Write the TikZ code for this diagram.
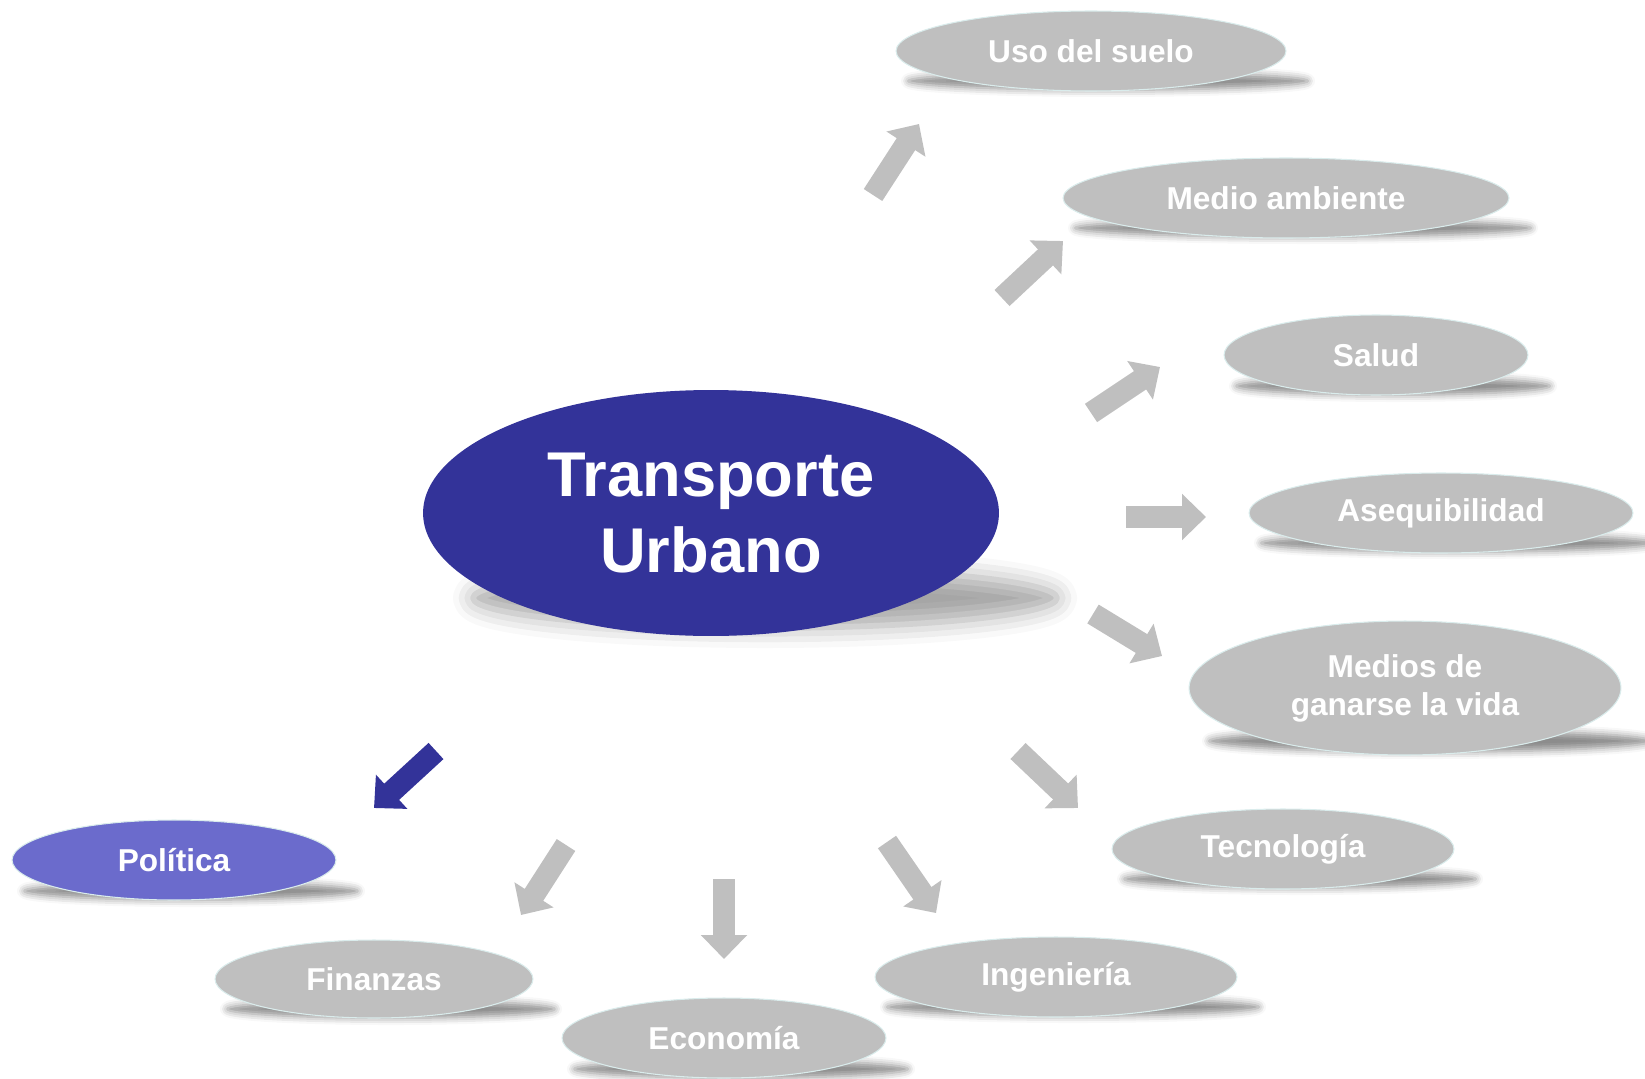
\documentclass[tikz,border=0pt]{standalone}
\usepackage{fontspec}
\setmainfont{Liberation Sans}
\usetikzlibrary{arrows.meta, shapes.geometric, shadows.blur}

\definecolor{azul}{RGB}{51,51,153}
\definecolor{lila}{RGB}{107,107,204}
\definecolor{gris}{RGB}{191,191,191}
\definecolor{borde}{RGB}{218,236,236}

\tikzset{
  elipse/.style={ellipse, fill=gris, draw=borde, line width=0.6pt, inner sep=0pt,
    minimum height=1.6cm, text=white, align=center,
    font=\fontsize{18}{21.6}\selectfont\bfseries},
  sombra/.style={blur shadow={shadow xshift=0pt, shadow yshift=0pt,
    shadow opacity=#1, shadow blur radius=0.14cm}},
  sombra/.default=45,
  flecha/.style={draw=gris, line width=0.44cm, -{Triangle[length=0.48cm, width=0.9cm]}}
}

\begin{document}
\begin{tikzpicture}[x=0.02cm, y=-0.02cm]
\useasboundingbox (0,0) rectangle (1645,1078);

% sombras
\path[blur shadow={shadow xshift=0pt, shadow yshift=0pt, shadow opacity=35,
  shadow blur radius=0.4cm}] (765,598) ellipse (292 and 30);
\path[sombra] (1108,81) ellipse (200 and 9);
\path[sombra] (1303,228) ellipse (228 and 9);
\path[sombra] (1393,386) ellipse (157 and 9);
\path[sombra] (1458,543) ellipse (197 and 9);
\path[sombra] (1430,741) ellipse (221 and 11);
\path[sombra] (1300,879) ellipse (176 and 9);
\path[sombra] (1073,1007) ellipse (186 and 9);
\path[sombra] (741,1069) ellipse (167 and 9);
\path[sombra] (391,1009) ellipse (164 and 9);
\path[sombra] (191,891) ellipse (167 and 9);

% centro
\node[ellipse, fill=azul, inner sep=0pt, minimum width=11.52cm, minimum height=4.92cm,
  text=white, align=center, font=\fontsize{36}{43}\selectfont\bfseries] (tu) at (711,513) {Transporte\\Urbano};

% temas
\node[elipse, minimum width=7.8cm] (uso) at (1091,51) {Uso del suelo};
\node[elipse, minimum width=8.92cm] (medio) at (1286,198) {Medio ambiente};
\node[elipse, minimum width=6.08cm] (salud) at (1376,355) {Salud};
\node[elipse, minimum width=7.68cm] (aseq) at (1441,513) {Asequibilidad};
\node[elipse, minimum width=8.64cm, minimum height=2.68cm] (vida) at (1405,688) {Medios de\\ganarse la vida};
\node[elipse, minimum width=6.84cm] (tec) at (1283,849) {Tecnología};
\node[elipse, minimum width=7.24cm] (ing) at (1056,977) {Ingeniería};
\node[elipse, minimum width=6.48cm] (eco) at (724,1038) {Economía};
\node[elipse, minimum width=6.36cm, minimum height=1.56cm] (fin) at (374,979) {Finanzas};
\node[elipse, minimum width=6.48cm, fill=lila] (pol) at (174,860) {Política};

% flechas
\coordinate (usoA) at (873,195);   \coordinate (usoB) at (919,124);
\coordinate (medioA) at (1002,298); \coordinate (medioB) at (1063,241);
\coordinate (saludA) at (1091,413); \coordinate (saludB) at (1160,367);
\coordinate (aseqA) at (1126,517); \coordinate (aseqB) at (1206,517);
\coordinate (vidaA) at (1093,614); \coordinate (vidaB) at (1162,656);
\coordinate (tecA) at (1018,751);  \coordinate (tecB) at (1078,808);
\coordinate (ingA) at (887,842);   \coordinate (ingB) at (936,913);
\coordinate (ecoA) at (724,879);   \coordinate (ecoB) at (724,959);
\coordinate (finA) at (566,845);   \coordinate (finB) at (521,915);
\coordinate (polA) at (436,751);   \coordinate (polB) at (374,808);

\draw[flecha] (usoA) -- (usoB);
\draw[flecha] (medioA) -- (medioB);
\draw[flecha] (saludA) -- (saludB);
\draw[flecha] (aseqA) -- (aseqB);
\draw[flecha] (vidaA) -- (vidaB);
\draw[flecha] (tecA) -- (tecB);
\draw[flecha] (ingA) -- (ingB);
\draw[flecha] (ecoA) -- (ecoB);
\draw[flecha] (finA) -- (finB);
\draw[flecha, draw=azul] (polA) -- (polB);
\end{tikzpicture}
\end{document}
